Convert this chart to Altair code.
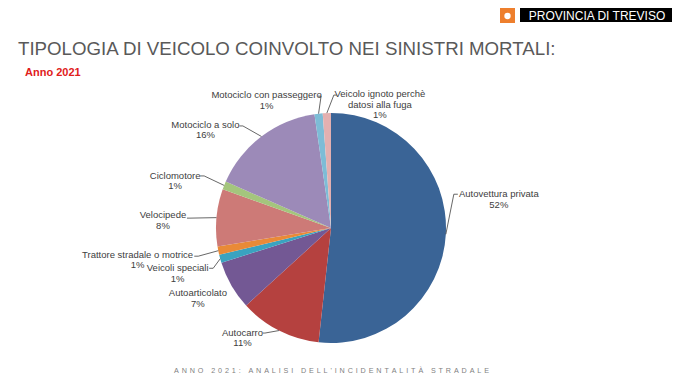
import math
import altair as alt
import pandas as pd

# ---------------- data ----------------
CATEGORIES = [
    "Autovettura privata",
    "Autocarro",
    "Autoarticolato",
    "Veicoli speciali",
    "Trattore stradale o motrice",
    "Velocipede",
    "Ciclomotore",
    "Motociclo a solo",
    "Motociclo con passeggero",
    "Veicolo ignoto perchè datosi alla fuga",
]
COUNTS = [45, 10, 6, 1, 1, 7, 1, 14, 1, 1]
LABEL_NAMES = [
    "Autovettura privata",
    "Autocarro",
    "Autoarticolato",
    "Veicoli speciali",
    "Trattore stradale o motrice",
    "Velocipede",
    "Ciclomotore",
    "Motociclo a solo",
    "Motociclo con passeggero",
    "Veicolo ignoto perchè\ndatosi alla fuga",
]
TITLE = "TIPOLOGIA DI VEICOLO COINVOLTO NEI SINISTRI MORTALI:"
SUBTITLE = "Anno 2021"
LOGO_TEXT = "PROVINCIA DI TREVISO"
FOOTER = "ANNO 2021: ANALISI DELL'INCIDENTALITÀ STRADALE"

# ---------------- style / layout ----------------
COLORS = ["#3A6496", "#B5413F", "#735894", "#3AA3C0", "#E98A37",
          "#CD7A77", "#A4C57D", "#9C8AB8", "#7DBCD6", "#E3B0B0"]
W, H = 664, 367
CX, CY, R = 323, 220, 115
LH = 10.8
# label block centre, relative to the slice's outer mid point
LABEL_OFFSET = [(53, -35), (-36.5, 7.5), (-33.5, 13), (-42.5, 14.5), (-80.7, 9.3),
                (-53.5, 3), (-49, -4.5), (-56, -6.5), (-52, -13.5), (53, -8.5)]
LEADER_ELBOW = [(8, -40), (-14, 2.5), None, (-7, 9.5), (-20, 5.5),
                (-26.5, 0.5), (-20, -9.5), (-18.5, -10.5), (2.5, -17.5), (7, -18)]
LEADER_TICK = [(12, -40), (-16, 2.5), None, (-11, 9.5), (-24, 5.5),
               (-29.5, 0.5), (-24, -9.5), (-22, -10.5), (-0.5, -17.5), (10, -18)]
FONT = "Liberation Sans"
TXT = "#404040"

total = sum(COUNTS)
pie_df = pd.DataFrame({"categoria": CATEGORIES, "n": COUNTS, "idx": range(len(COUNTS))})

label_rows, leader_rows = [], []
cum = 0
for i, (cat, c) in enumerate(zip(CATEGORIES, COUNTS)):
    mid = (cum + c / 2) / total * 2 * math.pi
    cum += c
    ex, ey = CX + R * math.sin(mid), CY - R * math.cos(mid)
    pct = f"{round(100 * c / total)}%"
    text = LABEL_NAMES[i] + "\n" + pct
    n_lines = text.count("\n") + 1
    dx, dy = LABEL_OFFSET[i]
    label_rows.append({"x": ex + dx, "y": ey + dy - (n_lines - 1) * LH / 2, "t": text})
    if LEADER_ELBOW[i] is not None:
        pts = [(ex, ey), (ex + LEADER_ELBOW[i][0], ey + LEADER_ELBOW[i][1]),
               (ex + LEADER_TICK[i][0], ey + LEADER_TICK[i][1])]
        for s, (px, py) in enumerate(pts):
            leader_rows.append({"cat": cat, "s": s, "x": px, "y": py})
label_df = pd.DataFrame(label_rows)
leader_df = pd.DataFrame(leader_rows)

pie = alt.Chart(pie_df).mark_arc(radius=R).encode(
    theta=alt.Theta("n:Q", stack=True),
    color=alt.Color("categoria:N", scale=alt.Scale(domain=CATEGORIES, range=COLORS), legend=None),
    order=alt.Order("idx:Q"),
    x=alt.value(CX),
    y=alt.value(CY),
)

leaders = alt.Chart(leader_df).mark_line(color=TXT, strokeWidth=0.8).encode(
    x=alt.X("x:Q", scale=None, axis=None),
    y=alt.Y("y:Q", scale=None, axis=None),
    detail="cat:N",
    order="s:Q",
)

labels = alt.Chart(label_df).mark_text(
    font=FONT, fontSize=9.5, color=TXT, align="center", baseline="middle",
    lineBreak="\n", lineHeight=LH,
).encode(
    x=alt.X("x:Q", scale=None, axis=None),
    y=alt.Y("y:Q", scale=None, axis=None),
    text="t:N",
)

title = alt.Chart(pd.DataFrame({"t": [TITLE]})).mark_text(
    font=FONT, fontSize=18.7, color="#595959", align="left", baseline="alphabetic"
).encode(x=alt.value(10), y=alt.value(47), text="t:N")

subtitle = alt.Chart(pd.DataFrame({"t": [SUBTITLE]})).mark_text(
    font=FONT, fontSize=11, fontWeight="bold", color="#E0201B", align="left", baseline="alphabetic"
).encode(x=alt.value(17), y=alt.value(68), text="t:N")

logo_box = alt.Chart(pd.DataFrame({"a": [0]})).mark_rect(color="black").encode(
    x=alt.value(512), x2=alt.value(667), y=alt.value(0), y2=alt.value(14))
logo_sq = alt.Chart(pd.DataFrame({"a": [0]})).mark_rect(color="#EE7F2D").encode(
    x=alt.value(492), x2=alt.value(507), y=alt.value(0), y2=alt.value(15))
logo_icon = alt.Chart(pd.DataFrame({"a": [0]})).mark_point(
    shape="circle", filled=True, color="white", size=40, opacity=1
).encode(x=alt.value(499.5), y=alt.value(8))
logo_txt = alt.Chart(pd.DataFrame({"t": [LOGO_TEXT]})).mark_text(
    font=FONT, fontSize=12, color="white", align="center", baseline="middle"
).encode(x=alt.value(589), y=alt.value(7.5), text="t:N")

footer_spaced = "\u2009\u2009".join(FOOTER)
footer = alt.Chart(pd.DataFrame({"t": [footer_spaced]})).mark_text(
    font=FONT, fontSize=7.2, color="#7F7F7F", align="center", baseline="bottom"
).encode(x=alt.value(323.5), y=alt.value(367), text="t:N")

chart = alt.layer(
    pie, leaders, labels, title, subtitle, logo_box, logo_sq, logo_icon, logo_txt, footer
).properties(
    width=W, height=H, autosize="none", padding=0
).configure_view(stroke=None)

chart.save("out.html", embed_options={"renderer": "svg", "actions": False})
